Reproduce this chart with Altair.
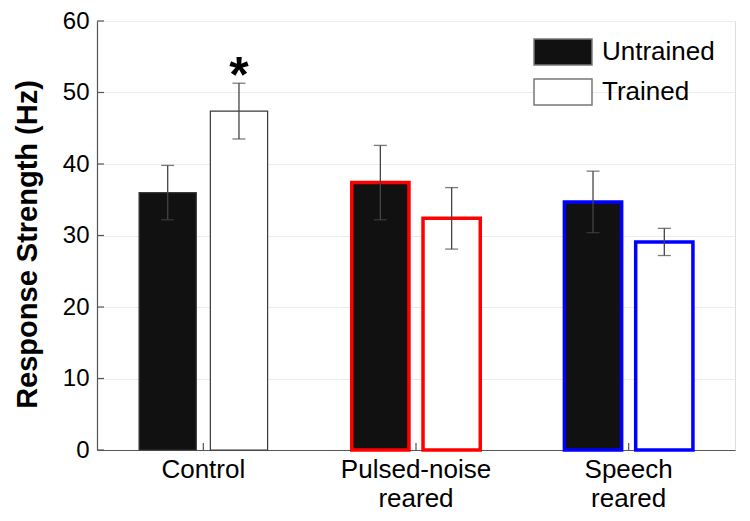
import altair as alt
import pandas as pd

groups = ["Control", "Pulsed-noise reared", "Speech reared"]
conditions = ["Untrained", "Trained"]
means_untrained = [36.0, 37.4, 34.7]
means_trained = [47.4, 32.4, 29.1]
sem_untrained = [3.8, 5.2, 4.3]
sem_trained = [3.9, 4.3, 1.9]
significant_trained = [True, False, False]
edge_colors = ["#3a3a3a", "#ff0000", "#0000ff"]
edge_widths = [1.2, 3.5, 3.5]
y_ticks = [0, 10, 20, 30, 40, 50, 60]

rows = []
for i, g in enumerate(groups):
    for c, m, s in (("Untrained", means_untrained[i], sem_untrained[i]),
                    ("Trained", means_trained[i], sem_trained[i])):
        rows.append({
            "group": g, "condition": c, "mean": m,
            "lo": m - s, "hi": m + s,
            "edge": edge_colors[i], "ew": edge_widths[i],
            "sig": "*" if (c == "Trained" and significant_trained[i]) else "",
        })
df = pd.DataFrame(rows)
ticks_df = pd.DataFrame({"v": y_ticks})
groups_df = pd.DataFrame({"group": groups})

FONT = "Liberation Sans"
H = 429

x_enc = alt.X("group:N", sort=groups,
              scale=alt.Scale(paddingInner=0, paddingOuter=0),
              axis=alt.Axis(title=None, labelExpr="split(datum.value, ' ')",
                            labelFontSize=26, labelFont=FONT, labelColor="black",
                            labelAngle=0, labelPadding=6, labelLineHeight=29,
                            labelBaseline="top",
                            tickSize=0, domainColor="#555", domainWidth=1.2,
                            grid=False))
xo_enc = alt.XOffset("condition:N", sort=conditions,
                     scale=alt.Scale(paddingInner=0.197, paddingOuter=0.59))
y_scale = alt.Scale(domain=[0, 60], nice=False)

bars = alt.Chart(df).mark_bar().encode(
    x=x_enc,
    xOffset=xo_enc,
    y=alt.Y("mean:Q", scale=y_scale,
            axis=alt.Axis(title="Response Strength (Hz)", values=y_ticks,
                          titleFontSize=29, titleFont=FONT, titleFontWeight="bold",
                          titleColor="black", titlePadding=20, titleY=223,
                          labelFontSize=24, labelFont=FONT, labelColor="black",
                          labelPadding=8, tickSize=0,
                          domainColor="#555", domainWidth=1.2,
                          grid=True, gridColor="#ececec", gridWidth=1)),
    fill=alt.Fill("condition:N", sort=conditions,
                  scale=alt.Scale(domain=conditions, range=["#111111", "#ffffff"]),
                  legend=alt.Legend(title=None, orient="none", legendX=452, legendY=17,
                                    symbolType="M-2.23,-1H2.23V1H-2.23Z",
                                    symbolSize=676, symbolStrokeColor="#777",
                                    symbolStrokeWidth=1.5, labelFontSize=26,
                                    labelFont=FONT, labelColor="black",
                                    labelOffset=25, rowPadding=8, padding=0)),
    stroke=alt.Stroke("edge:N", scale=None),
    strokeWidth=alt.StrokeWidth("ew:Q", scale=None),
)

err_rule = alt.Chart(df).mark_rule(color="#444", strokeWidth=1.3).encode(
    x=alt.X("group:N", sort=groups), xOffset=xo_enc,
    y=alt.Y("lo:Q", scale=y_scale), y2="hi:Q")
cap_lo = alt.Chart(df).mark_tick(color="#444", thickness=1.3, size=13).encode(
    x=alt.X("group:N", sort=groups), xOffset=xo_enc,
    y=alt.Y("lo:Q", scale=y_scale))
cap_hi = alt.Chart(df).mark_tick(color="#444", thickness=1.3, size=13).encode(
    x=alt.X("group:N", sort=groups), xOffset=xo_enc,
    y=alt.Y("hi:Q", scale=y_scale))

star = alt.Chart(df).transform_filter("datum.sig != ''").mark_text(
    font=FONT, fontWeight="bold", fontSize=50, baseline="alphabetic", dy=9,
    color="black").encode(
    x=alt.X("group:N", sort=groups), xOffset=xo_enc,
    y=alt.Y("hi:Q", scale=y_scale), text="sig:N")

y_tick_marks = alt.Chart(ticks_df).mark_rule(color="#555", strokeWidth=1.2).encode(
    y=alt.Y("v:Q", scale=y_scale), x=alt.value(0), x2=alt.value(7))
x_tick_marks = alt.Chart(groups_df).mark_rule(color="#555", strokeWidth=1.2).encode(
    x=alt.X("group:N", sort=groups), y=alt.value(H - 7), y2=alt.value(H))

chart = alt.layer(bars, err_rule, cap_lo, cap_hi, star, y_tick_marks, x_tick_marks).properties(
    width=638, height=H,
    autosize=alt.AutoSizeParams(type="none"),
    padding={"left": 89, "top": 13, "right": 7, "bottom": 63},
).configure_view(stroke=None).configure(background="white")

chart.save("out.html", embed_options={"renderer": "svg", "actions": False})
